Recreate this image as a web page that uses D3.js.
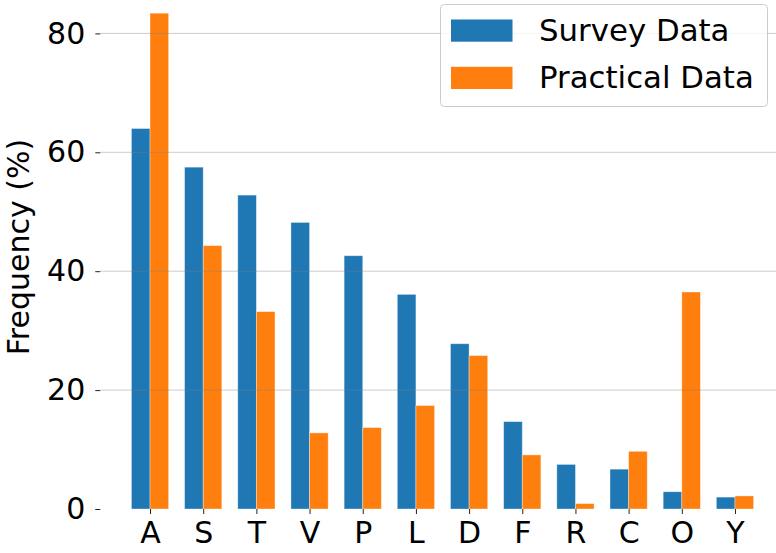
<!DOCTYPE html>
<html>
<head>
<meta charset="utf-8">
<script src="https://cdn.jsdelivr.net/npm/d3@7"></script>
<style>
  body { margin: 0; background: #fff; }
  svg { display: block; font-family: "DejaVu Sans", sans-serif; }
</style>
</head>
<body>
<svg id="chart" width="776" height="553"></svg>
<script>
// categories and values
const categories = ["A", "S", "T", "V", "P", "L", "D", "F", "R", "C", "O", "Y"];
const survey = [64.0, 57.5, 52.8, 48.2, 42.6, 36.1, 27.8, 14.7, 7.5, 6.7, 2.9, 2.0];
const practical = [83.4, 44.3, 33.2, 12.8, 13.7, 17.4, 25.8, 9.1, 0.9, 9.7, 36.5, 2.2];
const yTicks = [0, 20, 40, 60, 80];
const seriesNames = ["Survey Data", "Practical Data"];
const colors = ["#1f77b4", "#ff7f0e"];

const barW = 0.35;
const svg = d3.select("#chart");

// x in category-index units, y in percent
const x = d3.scaleLinear().domain([-0.935, 11.935]).range([100.3, 784.7]);
const y = d3.scaleLinear().domain([0, 80]).range([509, 33.4]);

const plot = svg.append("g");

// bars
[survey, practical].forEach((vals, s) => {
  plot.selectAll(".bar" + s)
    .data(vals)
    .join("rect")
    .attr("x", (d, i) => x(i - barW + s * barW))
    .attr("width", x(barW) - x(0))
    .attr("y", d => y(d))
    .attr("height", d => y(0) - y(d))
    .attr("fill", colors[s])
    .attr("stroke", "rgba(255,255,255,0.45)")
    .attr("stroke-width", 0.8);
});

// horizontal grid, drawn over bars like the original
plot.selectAll(".grid")
  .data(yTicks.filter(t => t > 0))
  .join("line")
  .attr("x1", x.range()[0]).attr("x2", 776)
  .attr("y1", d => y(d)).attr("y2", d => y(d))
  .attr("stroke", "#808080")
  .attr("stroke-opacity", 0.4)
  .attr("stroke-width", 1);

// y axis (no spine)
const yAxis = svg.append("g")
  .attr("transform", `translate(${x.range()[0]},0)`)
  .call(d3.axisLeft(y).tickValues(yTicks).tickSize(5).tickPadding(10));
yAxis.select(".domain").remove();
yAxis.selectAll(".tick line").attr("stroke", "#222");
yAxis.selectAll("text").attr("font-size", 30).attr("fill", "#000")
  .attr("font-family", "DejaVu Sans");

// x axis (no spine)
const xAxis = svg.append("g")
  .attr("transform", `translate(0,${y(0)})`)
  .call(d3.axisBottom(x).tickValues(d3.range(categories.length))
    .tickFormat(i => categories[i]).tickSize(5).tickPadding(8));
xAxis.select(".domain").remove();
xAxis.selectAll(".tick line").attr("stroke", "#222");
xAxis.selectAll("text").attr("font-size", 30).attr("fill", "#000")
  .attr("font-family", "DejaVu Sans");

// y label
svg.append("text")
  .attr("transform", "translate(29,247) rotate(-90)")
  .attr("text-anchor", "middle")
  .attr("font-size", 30)
  .text("Frequency (%)");

// legend
const legend = svg.append("g");
legend.append("rect")
  .attr("x", 440.5).attr("y", 4.5)
  .attr("width", 327).attr("height", 102)
  .attr("rx", 4)
  .attr("fill", "#fff").attr("fill-opacity", 0.8)
  .attr("stroke", "#ccc").attr("stroke-width", 1);
seriesNames.forEach((name, i) => {
  legend.append("rect")
    .attr("x", 451).attr("y", 19.5 + i * 47.3)
    .attr("width", 61.5).attr("height", 22.2)
    .attr("fill", colors[i]);
  legend.append("text")
    .attr("x", 539).attr("y", 41 + i * 47.3)
    .attr("font-size", 30.8)
    .text(name);
});
</script>
</body>
</html>
